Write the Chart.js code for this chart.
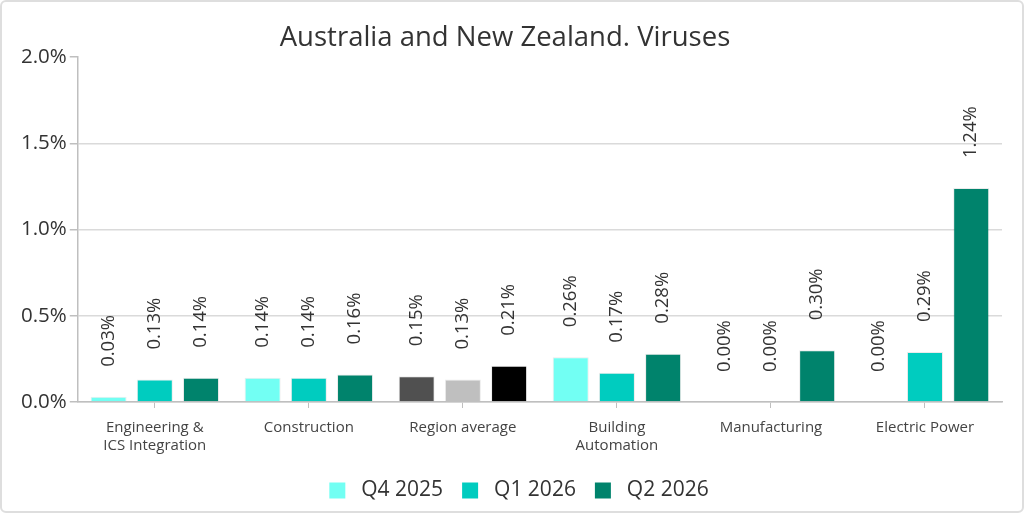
<!DOCTYPE html>
<html>
<head>
<meta charset="utf-8">
<script src="https://cdn.jsdelivr.net/npm/chart.js@4/dist/chart.umd.min.js"></script>
<style>
  html, body { margin: 0; padding: 0; background: #fff; }
  #wrap { position: relative; width: 1024px; height: 513px; }
  #frame { position: absolute; left: 0; top: 0; width: 1024px; height: 513px; box-sizing: border-box;
           border: 2px solid #dedede; border-radius: 6px; pointer-events: none; }
  canvas { display: block; }
</style>
</head>
<body>
<div id="wrap">
  <canvas id="chart" width="1024" height="513"></canvas>
  <div id="frame"></div>
</div>
<script>
// data (percent)
const categories = [['Engineering &', 'ICS Integration'], 'Construction', 'Region average',
                    ['Building', 'Automation'], 'Manufacturing', 'Electric Power'];
const seriesNames = ['Q4 2025', 'Q1 2026', 'Q2 2026'];
const q4_2025 = [0.03, 0.14, 0.15, 0.26, 0.00, 0.00];
const q1_2026 = [0.13, 0.14, 0.13, 0.17, 0.00, 0.29];
const q2_2026 = [0.14, 0.16, 0.21, 0.28, 0.30, 1.24];
const yTicks = [0, 0.5, 1.0, 1.5, 2.0];

const seriesColors = ['#72fff3', '#00ccbf', '#00836c'];
const averageColors = ['#505050', '#bfbfbf', '#000000'];  // region average group is grey
const averageIndex = 2;

const FONT = 'Open Sans';

// draws the rotated value labels above each bar
const barLabels = {
    id: 'barLabels',
    afterDatasetsDraw(chart) {
        const ctx = chart.ctx;
        ctx.save();
        ctx.font = '18.5px "' + FONT + '"';
        ctx.fillStyle = '#333';
        ctx.textAlign = 'left';
        ctx.textBaseline = 'middle';
        chart.data.datasets.forEach((ds, i) => {
            chart.getDatasetMeta(i).data.forEach((bar, j) => {
                ctx.save();
                ctx.translate(bar.x, bar.y - 30);
                ctx.rotate(-Math.PI / 2);
                ctx.fillText(ds.data[j].toFixed(2) + '%', 0, 0);
                ctx.restore();
            });
        });
        ctx.restore();
    }
};

// nudge title a bit left and legend a bit right, like the original
const nudge = {
    id: 'nudge',
    afterLayout(chart) {
        if (chart.titleBlock) { chart.titleBlock.left -= 5; chart.titleBlock.right -= 5; }
        if (chart.legend) { chart.legend.left += 9; chart.legend.right += 9; }
    }
};

const datasets = [q4_2025, q1_2026, q2_2026].map((values, i) => ({
    label: seriesNames[i],
    data: values,
    backgroundColor: c => c.dataIndex === averageIndex ? averageColors[i] : seriesColors[i],
    borderColor: 'rgba(0,0,0,0.08)',
    borderWidth: 1,
    categoryPercentage: 0.9,
    barPercentage: 0.78
}));

new Chart(document.getElementById('chart'), {
    type: 'bar',
    data: { labels: categories, datasets: datasets },
    options: {
        responsive: false,
        animation: false,
        layout: { padding: { left: 18, right: 22, top: 0, bottom: 2 } },
        plugins: {
            title: {
                display: true,
                text: 'Australia and New Zealand. Viruses',
                color: '#333',
                font: { family: FONT, size: 27.5, weight: 'normal' },
                padding: { top: 22, bottom: 2 }
            },
            legend: {
                position: 'bottom',
                labels: {
                    color: '#333',
                    font: { family: FONT, size: 21 },
                    boxWidth: 16,
                    boxHeight: 16,
                    padding: 19,
                    generateLabels(chart) {
                        return Chart.defaults.plugins.legend.labels.generateLabels(chart).map(l => {
                            l.text = ' ' + l.text;
                            l.strokeStyle = 'transparent';
                            l.lineWidth = 0;
                            return l;
                        });
                    }
                }
            },
            tooltip: { enabled: false }
        },
        scales: {
            x: {
                grid: { display: true, drawOnChartArea: false, offset: false, tickLength: 6, tickColor: '#bfbfbf' },
                border: { color: '#bfbfbf', width: 1.5 },
                ticks: { color: '#444', font: { family: FONT, size: 15 }, maxRotation: 0, padding: 11 },
                afterFit: s => { s.height -= 5; }
            },
            y: {
                min: 0,
                max: 2,
                afterBuildTicks: axis => { axis.ticks = yTicks.map(v => ({ value: v })); },
                grid: {
                    color: c => c.tick && c.tick.value === 2 ? 'rgba(0,0,0,0)' : '#dadada',
                    lineWidth: 1.5,
                    tickLength: 8,
                    tickColor: '#bfbfbf'
                },
                border: { color: '#bfbfbf', width: 1.5 },
                ticks: {
                    color: '#333',
                    font: { family: FONT, size: 20.5 },
                    padding: 3,
                    callback: v => v.toFixed(1) + '%'
                }
            }
        }
    },
    plugins: [barLabels, nudge]
});
</script>
</body>
</html>
